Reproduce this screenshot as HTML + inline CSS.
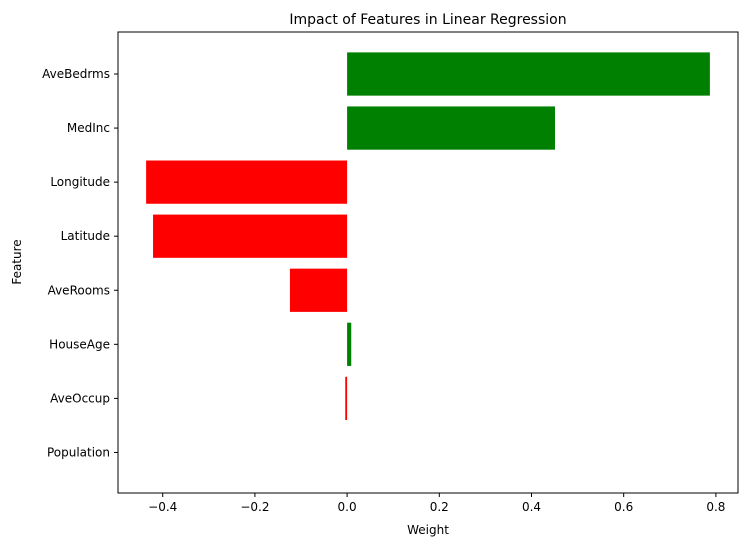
<!DOCTYPE html>
<html><head><meta charset="utf-8"><style>
body{margin:0;background:#fff;font-family:"Liberation Sans","DejaVu Sans",sans-serif;}
svg text{font-family:"DejaVu Sans","Liberation Sans",sans-serif;}
</style></head><body>
<svg id="chart" width="747" height="547" xmlns="http://www.w3.org/2000/svg">
<rect width="747" height="547" fill="#fff"/>
<text x="428" y="24" font-size="14" text-anchor="middle">Impact of Features in Linear Regression</text>
<g id="bars"></g><g id="xticks"></g><g id="yticks"></g>
<rect x="118" y="32" width="620" height="461" fill="none" stroke="#000" stroke-width="1"/>
<text x="428" y="534" font-size="12" text-anchor="middle">Weight</text>
<text x="21" y="262" font-size="12" text-anchor="middle" transform="rotate(-90 21 262)">Feature</text>
</svg>
<script>
const categories=["Population","AveOccup","HouseAge","AveRooms","Latitude","Longitude","MedInc","AveBedrms"];
const weights=[0,-0.004,0.009,-0.124,-0.421,-0.436,0.451,0.787];
const xTickValues=[-0.4,-0.2,0.0,0.2,0.4,0.6,0.8];
const xTickLabels=["\u22120.4","\u22120.2","0.0","0.2","0.4","0.6","0.8"];
const NS="http://www.w3.org/2000/svg";
const xMin=-0.497,xMax=0.848,L=118,R=738,T=32,B=493;
const x=v=>L+(v-xMin)/(xMax-xMin)*(R-L);
const yMin=-0.75,yMax=7.777;
const y=i=>B-(i-yMin)/(yMax-yMin)*(B-T);
const bw=0.8*(B-T)/(yMax-yMin);
function mk(t,a,p){const e=document.createElementNS(NS,t);for(const k in a)e.setAttribute(k,a[k]);p.appendChild(e);return e;}
const bars=document.getElementById('bars'),xt=document.getElementById('xticks'),yt=document.getElementById('yticks');
categories.forEach((c,i)=>{
 const v=weights[i];
 if(v!==0){
 const r=mk('rect',{x:Math.min(x(0),x(v)),y:y(i)-bw/2,width:Math.abs(x(v)-x(0)),height:bw,fill:v>=0?'#008000':'#ff0000'},bars);
 
 
 }
 mk('line',{x1:L-4,x2:L,y1:y(i),y2:y(i),stroke:'#000'},yt);
 const t=mk('text',{x:L-8,y:y(i)+4,'font-size':12,'text-anchor':'end'},yt);
 t.textContent=c;
 
 
});
xTickValues.forEach((v,i)=>{
 mk('line',{x1:x(v),x2:x(v),y1:B,y2:B+4,stroke:'#000'},xt);
 const t=mk('text',{x:x(v),y:B+18,'font-size':12,'text-anchor':'middle'},xt);
 t.textContent=xTickLabels[i];
 
 
});
</script>
</body></html>
